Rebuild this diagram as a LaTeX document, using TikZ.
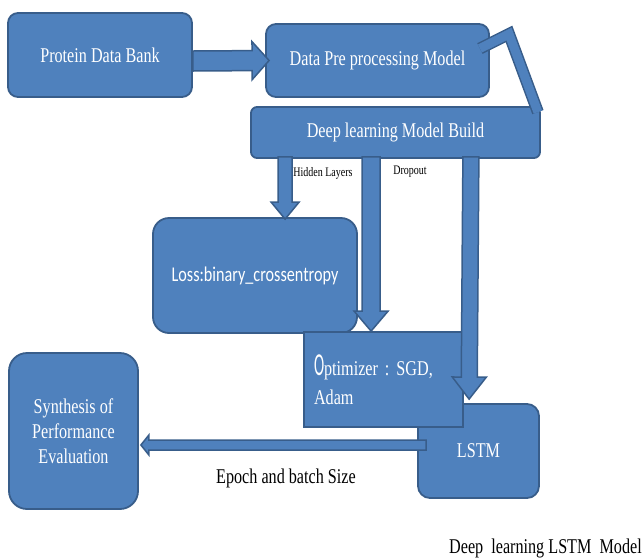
\documentclass[tikz,border=0pt]{standalone}
\usepackage{fontspec}
\setmainfont{Liberation Serif}[FakeStretch=0.77]
\newfontfamily\lossfont{Carlito}[FakeStretch=0.77]
\usetikzlibrary{calc,positioning}

\definecolor{boxfill}{HTML}{4F81BD}
\definecolor{boxline}{HTML}{385D8A}

\tikzset{
  block/.style={draw=boxline, fill=boxfill, line width=1.8pt, text=white,
    inner sep=0pt, font=\fontsize{21}{25}\selectfont},
  blockarrow/.style={draw=boxline, fill=boxfill, line width=1.5pt, line join=miter},
  zigzag/.style={draw=boxline, line width=1.5pt, double=boxfill,
    double distance=9pt, line join=miter},
  lbl/.style={text=black, inner sep=0pt},
}

% fat arrow from #1 to #2: shaft half width, head half width, head length
\newcommand\blockarrow[5]{%
  \coordinate (ba-h) at ($(#2)!#5!(#1)$);
  \draw[blockarrow] ($(#1)!#3!90:(#2)$) -- ($(ba-h)!#3!90:(#2)$)
    -- ($(ba-h)!#4!90:(#2)$) -- (#2) -- ($(ba-h)!#4!-90:(#2)$)
    -- ($(ba-h)!#3!-90:(#2)$) -- ($(#1)!#3!-90:(#2)$) -- cycle;}

\begin{document}
\begin{tikzpicture}[x=1pt, y=-1pt]
\useasboundingbox (0,0) rectangle (643,558);

% boxes
\node[block, rounded corners=10pt, minimum width=184pt, minimum height=84pt] (pdb) at (100,55) {Protein Data Bank};
\node[block, rounded corners=10pt, minimum width=223pt, minimum height=73pt] (dpp) at (377.5,60.5) {Data Pre processing Model};
\node[block, rounded corners=6pt, minimum width=289pt, minimum height=51pt] (dlmb) at (395.5,132.5) {Deep learning Model Build};
\node[block, rounded corners=16pt, minimum width=204pt, minimum height=115pt,
  font=\lossfont\fontsize{21}{25}\selectfont] (loss) at (255,275.5) {Loss:binary\_crossentropy};
\node[block, rounded corners=12pt, minimum width=121pt, minimum height=94pt] (lstm) at (478.5,451) {LSTM};
\node[block, minimum height=95pt, text width=139pt, inner xsep=10pt, align=left,
  font=\fontsize{21}{29}\selectfont\frenchspacing] (opt) at (383.5,379.5)
  {{\scalebox{0.62}[1]{\lossfont\fontsize{32}{32}\selectfont O}}\rmfamily ptimizer : SGD,\\Adam};
\node[block, rounded corners=18pt, minimum width=129pt, minimum height=156pt, align=center,
  font=\fontsize{21}{25}\selectfont] (synth) at (73.5,431) {Synthesis of\\Performance\\Evaluation};

% connector ends
\coordinate (pdb-a) at ($(pdb.east)+(0,6)$);
\coordinate (pdb-b) at ($(dpp.west)+(4,0)$);
\coordinate (zz-a) at ($(dpp.east)+(-10,-12)$);
\coordinate (zz-m) at (509,34);
\coordinate (zz-b) at ($(dlmb.north east)+(-3,6)$);
\coordinate (hl-a) at ($(dlmb.south west)+(35,-2)$);
\coordinate (hl-b) at ($(loss.north west)+(133,2)$);
\coordinate (do-a) at ($(dlmb.south west)+(121,-2)$);
\coordinate (do-b) at ($(opt.north west)+(68,0)$);
\coordinate (ls-a) at ($(dlmb.south east)+(-70,-2)$);
\coordinate (ls-b) at ($(lstm.north west)+(52,-4)$);
\coordinate (ev-a) at ($(lstm.west)+(9,-6)$);
\coordinate (ev-b) at ($(synth.east)+(2,14)$);

% arrows
\blockarrow{pdb-a}{pdb-b}{10pt}{19pt}{17pt}
\draw[zigzag] (zz-a) -- (zz-m) -- (zz-b);
\blockarrow{hl-a}{hl-b}{7pt}{14pt}{17pt}
\blockarrow{do-a}{do-b}{9pt}{17pt}{20pt}
\blockarrow{ls-a}{ls-b}{8pt}{17pt}{22pt}
\blockarrow{ev-a}{ev-b}{5pt}{10pt}{8pt}

% labels
\node[lbl, font=\fontsize{13}{15}\selectfont] (hl-lbl) at (323,173) {Hidden Layers};
\node[lbl, font=\fontsize{13}{15}\selectfont] (do-lbl) at (410,172) {Dropout};
\node[lbl, font=\fontsize{21}{25}\selectfont] (ev-lbl) at (286,478) {Epoch and batch Size};
\node[lbl, font=\fontsize{21}{25}\selectfont, anchor=east] (title) at (642,548) {Deep\ \ learning LSTM\ \ Model};
\end{tikzpicture}
\end{document}
